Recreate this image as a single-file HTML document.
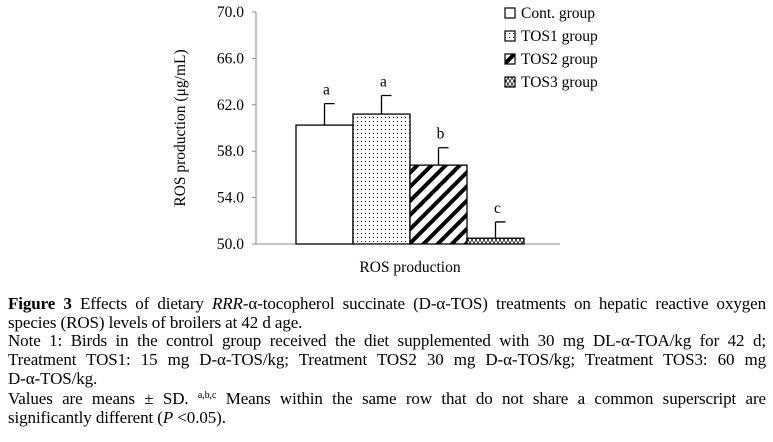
<!DOCTYPE html>
<html><head><meta charset="utf-8"><style>
body{margin:0;background:#fff;width:773px;height:442px;overflow:hidden;font-family:"Liberation Serif",serif;color:#000}
.cap{position:absolute;left:8px;top:295px;width:758px;font-size:17px;letter-spacing:-0.1px;line-height:18.7px}
.cap div{white-space:nowrap;height:18.7px}
.cap .j{text-align:justify;text-align-last:justify;white-space:normal}
sup{font-size:10px;line-height:0;vertical-align:6px}
</style></head><body>
<svg width="773" height="290" style="position:absolute;left:0;top:0" font-family="Liberation Serif, serif">
<defs>
<pattern id="dots" width="4" height="4" patternUnits="userSpaceOnUse"><rect width="4" height="4" fill="#fff"/><rect x="1" y="1" width="1" height="1" fill="#000"/></pattern>
<pattern id="diag" width="10" height="10" patternUnits="userSpaceOnUse" patternTransform="rotate(45)"><rect width="10" height="10" fill="#fff"/><rect width="4" height="10" fill="#000"/></pattern>
<pattern id="zig" width="8" height="6" patternUnits="userSpaceOnUse"><rect width="8" height="6" fill="#fff"/><path d="M0,0 L4,6 L8,0 M0,6 L4,0 L8,6" stroke="#000" stroke-width="0.7" fill="none"/></pattern>
</defs>
<g id="g"></g>
</svg>
<div class="cap">
<div class="j"><b>Figure 3</b> Effects of dietary <i>RRR</i>-α-tocopherol succinate (D-α-TOS) treatments on hepatic reactive oxygen</div>
<div>species (ROS) levels of broilers at 42 d age.</div>
<div class="j">Note 1: Birds in the control group received the diet supplemented with 30 mg DL-α-TOA/kg for 42 d;</div>
<div class="j">Treatment TOS1: 15 mg D-α-TOS/kg; Treatment TOS2 30 mg D-α-TOS/kg; Treatment TOS3: 60 mg</div>
<div>D-α-TOS/kg.</div>
<div class="j" style="margin-top:2px">Values are means ± SD. <sup>a,b,c</sup> Means within the same row that do not share a common superscript are</div>
<div>significantly different (<i>P</i> &lt;0.05).</div>
</div>
<script>
const groups=["Cont. group","TOS1 group","TOS2 group","TOS3 group"];
const values=[60.25,61.2,56.8,50.5];
const errors=[1.85,1.6,1.5,1.4];
const letters=["a","a","b","c"];
const ticks=[50,54,58,62,66,70];
const fills=["#fff","url(#dots)","url(#diag)","url(#zig)"];
const NS="http://www.w3.org/2000/svg",g=document.getElementById("g");
const y=v=>244-(v-50)*11.6;
function mk(t,a,txt){const e=document.createElementNS(NS,t);for(const k in a)e.setAttribute(k,a[k]);if(txt!=null)e.textContent=txt;g.appendChild(e);return e;}
let e=mk("line",{x1:256,y1:12,x2:256,y2:244,stroke:"#888"});


e=mk("line",{x1:256,y1:244,x2:560,y2:244,stroke:"#888"});


ticks.forEach(t=>{
 let l=mk("line",{x1:252,y1:y(t),x2:256,y2:y(t),stroke:"#888"});
 
 
 let tx=mk("text",{x:244,y:y(t)+5,"text-anchor":"end","font-size":"15.5"},t.toFixed(1));
 
 
});
e=mk("text",{transform:"translate(185,128) rotate(-90)","text-anchor":"middle","font-size":"15.5"},"ROS  production (μg/mL)");


e=mk("text",{x:410,y:272,"text-anchor":"middle","font-size":"15.5"},"ROS production");


const bw=57,x0=296;
values.forEach((v,i)=>{
 const x=x0+i*bw,cx=x+bw/2,top=y(v+errors[i]);
 let r=mk("rect",{x:x,y:y(v),width:bw,height:244-y(v),fill:fills[i],stroke:"#000","stroke-width":1.3});
 
 
 let el=mk("path",{d:`M${cx},${y(v)}V${top}M${cx},${top}H${cx+10}`,stroke:"#000","stroke-width":1.3,fill:"none"});
 
 
 let lt=mk("text",{x:cx+2,y:top-9,"text-anchor":"middle","font-size":"15.5"},letters[i]);
 
 
 let ly=8+i*23;
 let sw=mk("rect",{x:505,y:ly,width:10,height:10,fill:fills[i],stroke:"#000","stroke-width":1.2});
 
 
 let lx=mk("text",{x:521,y:ly+10,"font-size":"15.5"},groups[i]);
 
 
});
</script>
</body></html>
